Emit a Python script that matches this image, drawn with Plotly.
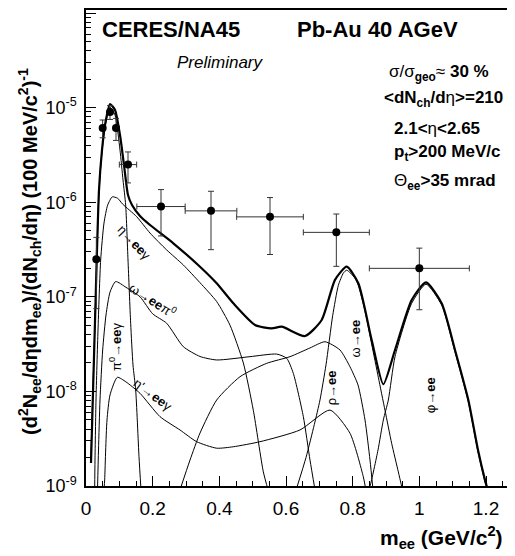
import plotly.graph_objects as go

# ---------------- data points (CERES/NA45 Pb-Au 40 AGeV) ----------------
mass_pts  = [0.031, 0.050, 0.072, 0.090, 0.126, 0.225, 0.375, 0.552, 0.751, 1.000]
yield_pts = [2.5e-7, 6.1e-6, 9.0e-6, 6.1e-6, 2.5e-6, 9.0e-7, 8.1e-7, 7.0e-7, 4.8e-7, 2.0e-7]
yield_err = [1.75e-7, 1.3e-6, 1.5e-6, 1.6e-6, 9.0e-7, 4.6e-7, 4.95e-7, 4.2e-7, 2.7e-7, 1.27e-7]
mass_err  = [0.0, 0.0, 0.0, 0.0, 0.026, 0.0725, 0.0775, 0.100, 0.099, 0.150]

# ---------------- cocktail curves ----------------
total_m = [0.015, 0.027, 0.039, 0.048, 0.057, 0.072, 0.087, 0.102, 0.114, 0.126, 0.138, 0.162,
           0.192, 0.262, 0.342, 0.392, 0.442, 0.507, 0.557, 0.587, 0.657, 0.707, 0.747, 0.782,
           0.817, 0.857, 0.892, 0.927, 0.977, 1.020, 1.067, 1.107, 1.147, 1.176, 1.197, 1.210]
total_y = [1.75e-9, 5.48e-8, 1.35e-6, 3.56e-6, 6.55e-6, 1.09e-5, 9.44e-6, 5.13e-6, 2.47e-6, 1.19e-6,
           9.33e-7, 7.14e-7, 5.74e-7, 3.68e-7, 2.08e-7, 1.39e-7, 8.53e-8, 5.04e-8, 4.64e-8, 4.83e-8,
           3.85e-8, 5.69e-8, 1.51e-7, 2.08e-7, 1.39e-7, 3.49e-8, 1.19e-8, 2.74e-8, 9.25e-8, 1.42e-7,
           8.53e-8, 2.74e-8, 8.11e-9, 2.40e-9, 1.16e-9, 8.0e-10]

pi0_m = [0.014, 0.027, 0.039, 0.048, 0.057, 0.072, 0.087, 0.102, 0.111, 0.119, 0.126, 0.134,
         0.141, 0.149, 0.159, 0.165]
pi0_y = [1.75e-9, 5.55e-8, 1.28e-6, 3.40e-6, 6.24e-6, 1.01e-5, 8.36e-6, 3.56e-6, 1.72e-6, 9.33e-7,
         2.45e-7, 5.25e-8, 1.90e-8, 1.04e-8, 2.04e-9, 9.1e-10]

eta_m = [0.026, 0.027, 0.030, 0.036, 0.044, 0.054, 0.065, 0.079, 0.095, 0.110, 0.152, 0.192,
         0.242, 0.292, 0.342, 0.392, 0.432, 0.472, 0.502, 0.532, 0.547]
eta_y = [9.1e-10, 1.88e-9, 8.11e-9, 4.46e-8, 2.45e-7, 6.03e-7, 9.33e-7, 1.14e-6, 1.10e-6, 9.55e-7,
         7.03e-7, 4.72e-7, 3.13e-7, 2.17e-7, 1.41e-7, 8.91e-8, 5.01e-8, 2.0e-8, 6.31e-9, 1.41e-9,
         8.9e-10]

omegad_m = [0.0345, 0.0375, 0.042, 0.050, 0.060, 0.072, 0.089, 0.120, 0.162, 0.200, 0.242, 0.292,
            0.342, 0.392, 0.492, 0.572, 0.602, 0.622, 0.652, 0.672, 0.687]
omegad_y = [9.1e-10, 2.40e-9, 8.11e-9, 2.74e-8, 6.43e-8, 1.12e-7, 1.45e-7, 1.26e-7, 1.0e-7, 6.61e-8,
            5.25e-8, 2.97e-8, 2.34e-8, 2.15e-8, 2.33e-8, 2.48e-8, 2.24e-8, 1.55e-8, 5.41e-9, 1.88e-9,
            9.1e-10]

etap_m = [0.054, 0.056, 0.059, 0.063, 0.072, 0.094, 0.120, 0.162, 0.222, 0.282, 0.332, 0.392,
          0.442, 0.522, 0.642, 0.732, 0.792, 0.832, 0.840]
etap_y = [9.1e-10, 1.16e-9, 2.40e-9, 4.99e-9, 9.16e-9, 1.41e-8, 1.26e-8, 9.55e-9, 5.41e-9, 3.91e-9,
          2.94e-9, 2.51e-9, 2.60e-9, 2.94e-9, 3.91e-9, 6.35e-9, 3.61e-9, 1.25e-9, 8.9e-10]

rho_m = [0.282, 0.312, 0.342, 0.392, 0.462, 0.542, 0.612, 0.672, 0.717, 0.762, 0.792, 0.816,
         0.837, 0.852, 0.861]
rho_y = [9.1e-10, 1.88e-9, 3.63e-9, 8.11e-9, 1.43e-8, 1.98e-8, 2.33e-8, 2.88e-8, 3.35e-8, 2.74e-8,
         1.82e-8, 1.17e-8, 4.99e-9, 1.88e-9, 9.1e-10]

omega_m = [0.632, 0.660, 0.685, 0.702, 0.720, 0.740, 0.757, 0.772, 0.782, 0.807, 0.817, 0.837,
           0.857, 0.877, 0.897, 0.917, 0.937, 0.950]
omega_y = [9.5e-10, 2.0e-9, 4.47e-9, 8.13e-9, 1.91e-8, 6.31e-8, 1.32e-7, 1.78e-7, 1.91e-7, 1.58e-7,
           1.32e-7, 7.08e-8, 3.16e-8, 1.41e-8, 6.31e-9, 2.82e-9, 1.41e-9, 8.9e-10]

phi_m = [0.845, 0.852, 0.876, 0.892, 0.907, 0.927, 0.977, 1.020, 1.067, 1.107, 1.147, 1.176,
         1.197, 1.205]
phi_y = [8.9e-10, 1.0e-9, 2.40e-9, 4.99e-9, 8.11e-9, 2.33e-8, 8.53e-8, 1.36e-7, 8.18e-8, 2.61e-8,
         7.73e-9, 2.29e-9, 1.10e-9, 8.9e-10]

x_tickvals = [0, 0.2, 0.4, 0.6, 0.8, 1.0, 1.2]
x_ticktext = ["0", "0.2", "0.4", "0.6", "0.8", "1", "1.2"]
y_tickvals = [1e-9, 1e-8, 1e-7, 1e-6, 1e-5, 1e-4]
y_ticktext = ["10<sup>-9</sup>", "10<sup>-8</sup>", "10<sup>-7</sup>",
              "10<sup>-6</sup>", "10<sup>-5</sup>", "10<sup>-4</sup>"]
y_minor = [k * d for d in [1e-9, 1e-8, 1e-7, 1e-6, 1e-5] for k in range(2, 10)]

FONT = "Liberation Sans, Arial, sans-serif"

fig = go.Figure()

for xm, ym in [(pi0_m, pi0_y), (eta_m, eta_y), (omegad_m, omegad_y), (etap_m, etap_y),
               (rho_m, rho_y), (omega_m, omega_y), (phi_m, phi_y)]:
    fig.add_trace(go.Scatter(x=xm, y=ym, mode="lines",
                             line=dict(color="black", width=1, shape="spline", smoothing=0.6),
                             showlegend=False, hoverinfo="skip"))

fig.add_trace(go.Scatter(x=total_m, y=total_y, mode="lines",
                         line=dict(color="black", width=2.2, shape="spline", smoothing=0.6),
                         showlegend=False, hoverinfo="skip"))

fig.add_trace(go.Scatter(
    x=mass_pts, y=yield_pts, mode="markers",
    marker=dict(color="black", size=8, symbol="circle"),
    error_y=dict(type="data", array=yield_err, color="#333333", thickness=1, width=3),
    error_x=dict(type="data", array=mass_err, color="#333333", thickness=1, width=3),
    showlegend=False))

ann = []
def label(text, x, ylog, angle, size=13):
    ann.append(dict(x=x, y=ylog, xref="x", yref="y", text=text, textangle=angle,
                    showarrow=False, font=dict(family=FONT, size=size, color="black"),
                    xanchor="center", yanchor="middle"))

label("η→<b>ee</b>γ", 0.144, -6.43, 47)
label("ω→<b>ee</b>π<sup>0</sup>", 0.202, -7.03, 33)
label("π<sup>0</sup>→<b>ee</b>γ", 0.087, -7.53, -90)
label("η'→<b>ee</b>γ", 0.200, -8.03, 37)
label("ω→<b>ee</b>", 0.807, -7.44, -90)
label("ρ→<b>ee</b>", 0.737, -7.96, -90)
label("φ→<b>ee</b>", 1.032, -8.04, -90)

def ptext(text, x, y, size, xanchor="left", angle=0):
    ann.append(dict(x=x, y=y, xref="paper", yref="paper", text=text, showarrow=False,
                    textangle=angle, font=dict(family=FONT, size=size, color="black"),
                    xanchor=xanchor, yanchor="middle"))

ptext("<b>CERES/NA45</b>", 0.032, 0.959, 22)
ptext("<b>Pb-Au 40 AGeV</b>", 0.482, 0.958, 22)
ptext("<i>Preliminary</i>", 0.205, 0.889, 17)
ptext("σ/σ<sub><b>geo</b></sub>≈ <b>30 %</b>", 0.695, 0.868, 17)
ptext("<b>&lt;dN<sub>ch</sub>/d</b>η<b>&gt;=210</b>", 0.684, 0.813, 17)
ptext("<b>2.1&lt;</b>η<b>&lt;2.65</b>", 0.706, 0.752, 17)
ptext("<b>p<sub>t</sub>&gt;200 MeV/c</b>", 0.706, 0.699, 17)
ptext("Θ<sub><b>ee</b></sub><b>&gt;35 mrad</b>", 0.706, 0.639, 17)

ptext("<b>m<sub>ee</sub> (GeV/c<sup>2</sup>)</b>", 0.968, -0.109, 21, xanchor="right")
ann.append(dict(x=-0.129, y=0.492, xref="paper", yref="paper",
                text="<b>(d<sup>2</sup>N<sub>ee</sub>/dηdm<sub>ee</sub>)/(dN<sub>ch</sub>/dη) (100 MeV/c<sup>2</sup>)<sup>-1</sup></b>",
                showarrow=False, textangle=-90, font=dict(family=FONT, size=20, color="black"),
                xanchor="center", yanchor="middle"))

fig.update_layout(
    width=515, height=556,
    margin=dict(l=78, r=4, t=2, b=78, autoexpand=False),
    paper_bgcolor="white", plot_bgcolor="white",
    font=dict(family=FONT, color="black"),
    annotations=ann,
    showlegend=False,
)
fig.update_xaxes(
    range=[0, 1.299], showgrid=False, zeroline=False, automargin=False,
    showline=True, linecolor="black", linewidth=1.5, mirror=True,
    ticks="inside", ticklen=10, tickwidth=1, tickcolor="black",
    tickmode="array", tickvals=x_tickvals, ticktext=x_ticktext,
    tickfont=dict(family=FONT, size=19), ticklabelstandoff=4,
    minor=dict(dtick=0.05, tick0=0, ticks="inside", ticklen=5, tickwidth=1, tickcolor="black",
               showgrid=False),
)
fig.update_yaxes(
    type="log", range=[-9, -3.968], showgrid=False, zeroline=False, automargin=False,
    showline=True, linecolor="black", linewidth=1.5, mirror=False,
    ticks="inside", ticklen=10, tickwidth=1, tickcolor="black",
    tickmode="array", tickvals=y_tickvals, ticktext=y_ticktext,
    tickfont=dict(family=FONT, size=18), ticklabelstandoff=4,
    minor=dict(tickmode="array", tickvals=y_minor, ticks="inside", ticklen=5, tickwidth=1,
               tickcolor="black", showgrid=False),
)

fig.write_html("out.html")
